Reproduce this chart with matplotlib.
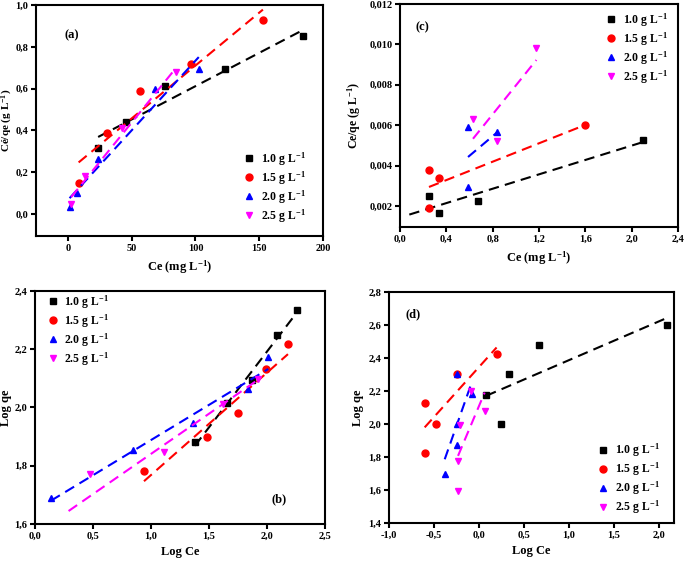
### Modules
import numpy as np
import matplotlib
matplotlib.use('Agg')
from matplotlib import pyplot as plt
from matplotlib.ticker import FuncFormatter

### Fonts: bold serif everywhere
plt.rcParams['font.family'] = 'Liberation Serif'
plt.rcParams['font.weight'] = 'bold'
plt.rcParams['mathtext.fontset'] = 'custom'
plt.rcParams['mathtext.rm'] = 'Liberation Serif:bold'
plt.rcParams['mathtext.bf'] = 'Liberation Serif:bold'
plt.rcParams['mathtext.default'] = 'bf'

### Series names, colours, markers
doses = ['1.0 g L$^{-1}$', '1.5 g L$^{-1}$', '2.0 g L$^{-1}$', '2.5 g L$^{-1}$']
colors = ['black', 'red', 'blue', '#ff00ff']
markers = ['s', 'o', '^', 'v']

### (a) Ce/qe vs Ce
a_x_10 = [23.7, 45.5, 76.0, 123.0, 184.5]
a_y_10 = [0.314, 0.439, 0.612, 0.692, 0.852]
a_x_15 = [8.4, 30.8, 56.6, 96.6, 152.9]
a_y_15 = [0.148, 0.389, 0.590, 0.716, 0.927]
a_x_20 = [1.3, 7.4, 23.2, 68.2, 102.6]
a_y_20 = [0.032, 0.102, 0.263, 0.596, 0.694]
a_x_25 = [2.6, 13.4, 42.6, 84.7]
a_y_25 = [0.048, 0.183, 0.413, 0.681]

### (c) Ce/qe vs Ce
c_x_10 = [0.247, 0.334, 0.670, 2.100]
c_y_10 = [0.00250, 0.00167, 0.00225, 0.00527]
c_x_15 = [0.250, 0.250, 0.334, 1.600]
c_y_15 = [0.00378, 0.00188, 0.00337, 0.00600]
c_x_20 = [0.587, 0.587, 0.840]
c_y_20 = [0.00591, 0.00294, 0.00565]
c_x_25 = [0.630, 0.840, 1.177]
c_y_25 = [0.00631, 0.00523, 0.00984]

### (b) Log qe vs Log Ce
b_x_10 = [1.379, 1.658, 1.874, 2.083, 2.261]
b_y_10 = [1.880, 2.014, 2.094, 2.249, 2.335]
b_x_15 = [0.940, 1.486, 1.747, 1.989, 2.181]
b_y_15 = [1.783, 1.900, 1.982, 2.132, 2.218]
b_x_20 = [0.138, 0.848, 1.359, 1.839, 2.011]
b_y_20 = [1.690, 1.854, 1.948, 2.064, 2.173]
b_x_25 = [0.290, 0.474, 1.115, 1.624, 1.920]
b_y_25 = [1.590, 1.770, 1.848, 2.013, 2.098]

### (d) Log qe vs Log Ce
d_x_10 = [0.081, 0.244, 0.330, 0.667, 2.096]
d_y_10 = [2.177, 2.001, 2.302, 2.480, 2.602]
d_x_15 = [-0.604, -0.481, -0.604, -0.241, 0.196]
d_y_15 = [2.126, 2.001, 1.823, 2.300, 2.426]
d_x_20 = [-0.381, -0.241, -0.241, -0.241, -0.078]
d_y_20 = [1.697, 1.875, 2.000, 2.300, 2.179]
d_x_25 = [-0.233, -0.233, -0.207, -0.085, 0.063]
d_y_25 = [1.596, 1.775, 1.996, 2.200, 2.076]


def comma_fmt(decimals):
    # decimal comma, as in the original figure
    return FuncFormatter(lambda v, pos: '{:.{d}f}'.format(v, d=decimals).replace('.', ','))


def draw_panel(ax, xs, ys, fit_start=None):
    for i in range(4):
        x = np.array(xs[i])
        y = np.array(ys[i])
        ax.plot(x, y, ls='none', marker=markers[i], color=colors[i]
                ,markersize=5, label=doses[i], clip_on=True)
        slope, intercept = np.polyfit(x, y, 1)
        lo = x.min() if fit_start is None or fit_start[i] is None else fit_start[i]
        xx = np.array([lo, x.max()])
        ax.plot(xx, slope * xx + intercept, color=colors[i]
                ,ls=(0, (5, 3)), lw=1.5)
    for side in ax.spines.values():
        side.set_linewidth(1.5)
    ax.tick_params(direction='out', width=1.5, length=3.5, labelsize=7.5, pad=2)
    for lab in ax.get_xticklabels() + ax.get_yticklabels():
        lab.set_fontweight('bold')


def add_legend(ax, x0, y0):
    ax.legend(loc='center left', bbox_to_anchor=(x0, y0), frameon=False
              ,fontsize=8.5, handletextpad=0.4, labelspacing=0.12, handlelength=1.2)


fig = plt.figure(figsize=(6.85, 5.64), dpi=100)

ax_a = fig.add_axes([0.0526, 0.5816, 0.4189, 0.4094])
ax_c = fig.add_axes([0.584, 0.5975, 0.4058, 0.3955])
ax_b = fig.add_axes([0.051, 0.071, 0.4234, 0.413])
ax_d = fig.add_axes([0.568, 0.0727, 0.416, 0.4096])

### (a)
draw_panel(ax_a, [a_x_10, a_x_15, a_x_20, a_x_25], [a_y_10, a_y_15, a_y_20, a_y_25])
ax_a.set_xlim(-25, 200)
ax_a.set_ylim(-0.105, 1.0)
ax_a.set_xticks(np.arange(0, 201, 50))
ax_a.set_yticks(np.arange(0, 1.01, 0.2))
ax_a.xaxis.set_major_formatter(comma_fmt(0))
ax_a.yaxis.set_major_formatter(comma_fmt(1))
ax_a.set_xlabel('Ce (mg L$^{-1}$)', fontsize=9, fontweight='bold')
ax_a.set_ylabel('Cé/qe (g L$^{-1}$)', fontsize=8, fontweight='bold')
ax_a.yaxis.set_label_coords(-0.072, 0.5)
ax_a.text(0.10, 0.87, '(a)', transform=ax_a.transAxes, fontsize=9, fontweight='bold'
          ,ha='left', va='center')
add_legend(ax_a, 0.68, 0.21)

### (c)
draw_panel(ax_c, [c_x_10, c_x_15, c_x_20, c_x_25], [c_y_10, c_y_15, c_y_20, c_y_25]
           ,fit_start=[0.08, None, None, None])
ax_c.set_xlim(0, 2.4)
ax_c.set_ylim(0.00096, 0.012)
ax_c.set_xticks(np.arange(0, 2.41, 0.4))
ax_c.set_yticks(np.arange(0.002, 0.0121, 0.002))
ax_c.xaxis.set_major_formatter(comma_fmt(1))
ax_c.yaxis.set_major_formatter(comma_fmt(3))
ax_c.set_xlabel('Ce (mg L$^{-1}$)', fontsize=9, fontweight='bold')
ax_c.set_ylabel('Ce/qe (g L$^{-1}$)', fontsize=8.5, fontweight='bold')
ax_c.yaxis.set_label_coords(-0.133, 0.5)
ax_c.text(0.055, 0.897, '(c)', transform=ax_c.transAxes, fontsize=9, fontweight='bold'
          ,ha='left', va='center')
add_legend(ax_c, 0.695, 0.80)

### (b)
draw_panel(ax_b, [b_x_10, b_x_15, b_x_20, b_x_25], [b_y_10, b_y_15, b_y_20, b_y_25])
ax_b.set_xlim(0, 2.5)
ax_b.set_ylim(1.6, 2.4)
ax_b.set_xticks(np.arange(0, 2.51, 0.5))
ax_b.set_yticks(np.arange(1.6, 2.41, 0.2))
ax_b.xaxis.set_major_formatter(comma_fmt(1))
ax_b.yaxis.set_major_formatter(comma_fmt(1))
ax_b.set_xlabel('Log Ce', fontsize=9, fontweight='bold')
ax_b.set_ylabel('Log qe', fontsize=9, fontweight='bold')
ax_b.yaxis.set_label_coords(-0.079, 0.5)
ax_b.text(0.817, 0.107, '(b)', transform=ax_b.transAxes, fontsize=9, fontweight='bold'
          ,ha='left', va='center')
add_legend(ax_b, 0.00, 0.83)

### (d)
draw_panel(ax_d, [d_x_10, d_x_15, d_x_20, d_x_25], [d_y_10, d_y_15, d_y_20, d_y_25])
ax_d.set_xlim(-1.0, 2.17)
ax_d.set_ylim(1.4, 2.8)
ax_d.set_xticks(np.arange(-1.0, 2.01, 0.5))
ax_d.set_yticks(np.arange(1.4, 2.81, 0.2))
ax_d.xaxis.set_major_formatter(comma_fmt(1))
ax_d.yaxis.set_major_formatter(comma_fmt(1))
ax_d.set_xlabel('Log Ce', fontsize=9, fontweight='bold')
ax_d.set_ylabel('Log qe', fontsize=9, fontweight='bold')
ax_d.yaxis.set_label_coords(-0.088, 0.5)
ax_d.text(0.056, 0.905, '(d)', transform=ax_d.transAxes, fontsize=9, fontweight='bold'
          ,ha='left', va='center')
add_legend(ax_d, 0.69, 0.19)

plt.savefig('out.png', dpi=100)
